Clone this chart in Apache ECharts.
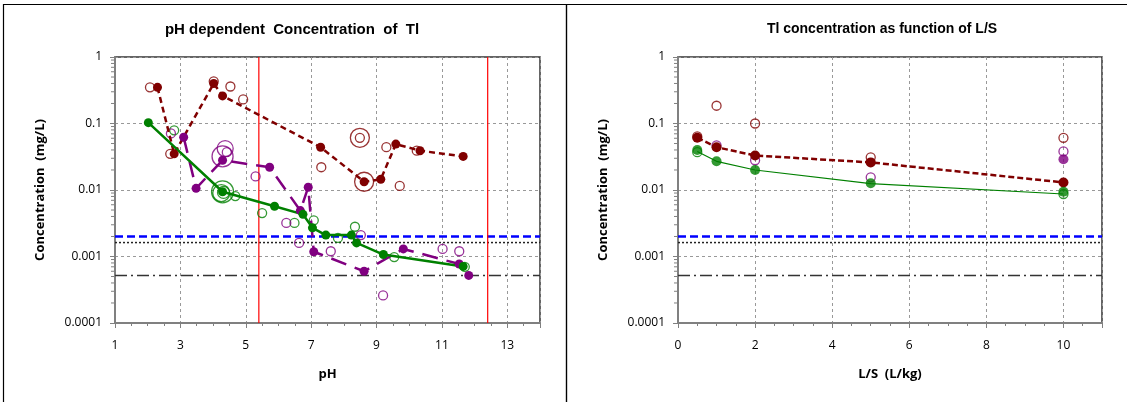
<!DOCTYPE html>
<html>
<head>
<meta charset="utf-8">
<script src="https://cdn.jsdelivr.net/npm/echarts@6/dist/echarts.min.js"></script>
<style>
  html, body { margin: 0; padding: 0; background: #fff; }
  #main { width: 1127px; height: 402px; }
</style>
</head>
<body>
<div id="main"></div>
<script>
// pH chart (left)
var phTicks = [1, 3, 5, 7, 9, 11, 13];
var concTicks = ['0.0001', '0.001', '0.01', '0.1', '1'];
var phMaroonLine = [[2.3, 0.35], [2.81, 0.035], [4.02, 0.40], [4.29, 0.26], [7.29, 0.044], [8.62, 0.0133], [9.13, 0.0145], [9.59, 0.049], [10.33, 0.039], [11.65, 0.032]];
var phMaroonOpen = [[2.07, 0.35], [2.69, 0.035], [4.02, 0.43], [4.53, 0.36], [4.92, 0.23], [7.31, 0.022], [9.30, 0.044], [10.23, 0.039], [9.71, 0.0115], [8.49, 0.061]];
var phMaroonRings = [[8.49, 0.061, 19], [8.62, 0.0133, 19]];
var phGreenLine = [[2.02, 0.103], [4.29, 0.0094], [5.88, 0.0057], [6.75, 0.0043], [7.04, 0.0027], [7.45, 0.0021], [8.23, 0.0021], [8.39, 0.0016], [9.21, 0.00107], [11.65, 0.00071]];
var phGreenOpen = [[2.81, 0.079], [4.68, 0.0081], [5.50, 0.0045], [6.49, 0.0032], [7.08, 0.0035], [7.82, 0.0019], [8.34, 0.0028], [9.54, 0.00098], [11.7, 0.0007]];
var phGreenRings = [[4.29, 0.0094, 22], [4.25, 0.009, 17], [4.32, 0.0092, 12]];
var phPurpleLine = [[3.10, 0.062], [3.48, 0.0106], [4.29, 0.028], [5.73, 0.022], [6.67, 0.0049], [6.91, 0.011], [7.08, 0.00118], [8.62, 0.0006], [9.82, 0.0013], [11.53, 0.00077], [11.82, 0.00052]];
var phPurpleOpen = [[2.71, 0.071], [5.30, 0.016], [6.24, 0.0032], [6.63, 0.0016], [7.6, 0.0012], [8.52, 0.0021], [9.2, 0.00026], [11.02, 0.0013], [11.53, 0.0012]];
var phPurpleRings = [[4.37, 0.042, 16], [4.42, 0.037, 9], [4.29, 0.032, 21]];
var phLimits = [5.4, 12.4];

// L/S chart (right)
var lsTicks = [0, 2, 4, 6, 8, 10];
var lsX = [0.5, 1, 2, 5, 10];
var lsMaroon = [0.061, 0.044, 0.033, 0.026, 0.013];
var lsMaroonOpen = [0.064, 0.185, 0.1, 0.031, 0.061];
var lsGreen = [0.040, 0.027, 0.020, 0.0126, 0.0094];
var lsGreenCurve = [0.038, 0.027, 0.020, 0.0125, 0.0087];
var lsGreenOpen = [[0.5, 0.037], [10, 0.0087]];
var lsPurpleOpen = [[1, 0.047], [2, 0.028], [5, 0.0155], [10, 0.038]];
var lsPurple = [[10, 0.029]];

// horizontal reference levels
var refBlue = 0.002;
var refDotted = 0.00162;
var refDashDot = 0.00052;

var MAROON = '#800000', GREEN = '#008000', PURPLE = '#800080';
var FONT = 'Open Sans';

var yMinor = [];
for (var d = -4; d < 0; d++) {
  for (var m = 2; m < 10; m++) yMinor.push(m * Math.pow(10, d));
}

var myChart = echarts.init(document.getElementById('main'));

function yAxisFor(gi) {
  return {
    type: 'log', logBase: 10, gridIndex: gi, min: 0.0001, max: 1,
    name: 'Concentration  (mg/L)', nameLocation: 'middle', nameGap: 68,
    nameTextStyle: { fontFamily: FONT, fontWeight: 'bold', fontSize: 13, color: '#000' },
    axisLine: { show: true, lineStyle: { color: '#808080', width: 2 } },
    axisTick: { show: true, length: 5, lineStyle: { color: '#808080' } },
    axisLabel: {
      fontFamily: FONT, fontSize: 12, color: '#000', margin: 13,
      formatter: function (v) {
        var s = concTicks.filter(function (t) { return Math.abs(parseFloat(t) - v) / v < 1e-6; });
        return s.length ? s[0] : '';
      }
    },
    splitLine: { show: true, lineStyle: { color: '#999', type: [3, 3], width: 1 } }
  };
}

function xAxisFor(gi, min, max, name, ticks) {
  return {
    type: 'value', gridIndex: gi, min: min, max: max, interval: 2,
    name: name, nameLocation: 'middle', nameGap: 45,
    nameTextStyle: { fontFamily: FONT, fontWeight: 'bold', fontSize: 13, color: '#000' },
    axisLine: { show: true, lineStyle: { color: '#808080', width: 2 } },
    axisTick: { show: true, length: 5, lineStyle: { color: '#808080' } },
    minorTick: { show: true, splitNumber: 4, length: 3, lineStyle: { color: '#808080' } },
    axisLabel: {
      fontFamily: FONT, fontSize: 12, color: '#000', margin: 17,
      formatter: function (v) { return ticks.indexOf(v) >= 0 ? String(v) : ''; }
    },
    splitLine: { show: true, lineStyle: { color: '#999', type: [3, 3], width: 1 } }
  };
}

function minorTickSeries(gi, x0) {
  return {
    type: 'custom', xAxisIndex: gi, yAxisIndex: gi, silent: true, z: 5,
    data: yMinor.map(function (v) { return [x0, v]; }),
    renderItem: function (params, api) {
      var p = api.coord([api.value(0), api.value(1)]);
      return { type: 'line', shape: { x1: p[0] - 4, y1: p[1], x2: p[0], y2: p[1] }, style: { stroke: '#808080', lineWidth: 1 } };
    }
  };
}

function segment(gi, pts, color, width, dash) {
  return {
    type: 'line', xAxisIndex: gi, yAxisIndex: gi, data: pts, symbol: 'none', silent: true,
    lineStyle: { color: color, width: width, type: dash }, z: 2
  };
}

function refLines(gi, x0, x1) {
  return [
    segment(gi, [[x0, refDashDot], [x1, refDashDot]], '#333', 1.5, [12, 4, 2, 4]),
    segment(gi, [[x0, refDotted], [x1, refDotted]], '#222', 1.5, [2, 2]),
    segment(gi, [[x0, refBlue], [x1, refBlue]], '#0000ff', 2.5, [8, 4])
  ];
}

function openScatter(gi, data, color, sizeFn) {
  return {
    type: 'scatter', xAxisIndex: gi, yAxisIndex: gi, data: data, symbol: 'circle',
    symbolSize: sizeFn || 9,
    itemStyle: { color: 'rgba(255,255,255,0)', borderColor: color, borderWidth: 1.3 }, z: 3
  };
}

function filledLine(gi, data, color, width, dash, size) {
  return {
    type: 'line', xAxisIndex: gi, yAxisIndex: gi, data: data, symbol: 'circle', symbolSize: size,
    showSymbol: true, itemStyle: { color: color },
    lineStyle: { color: color, width: width, type: dash }, z: 4
  };
}

var ringSize = function (v) { return v[2]; };

var series = [minorTickSeries(0, 1), minorTickSeries(1, 0)]
  .concat(refLines(0, 1, 14))
  .concat(refLines(1, 0, 11))
  .concat(phLimits.map(function (p) { return segment(0, [[p, 0.0001], [p, 1]], '#ff0000', 1.2, 'solid'); }))
  .concat([
    // left chart
    openScatter(0, phMaroonOpen, MAROON),
    openScatter(0, phMaroonRings, MAROON, ringSize),
    openScatter(0, phGreenOpen, GREEN),
    openScatter(0, phGreenRings, GREEN, ringSize),
    openScatter(0, phPurpleOpen, PURPLE),
    openScatter(0, phPurpleRings, PURPLE, ringSize),
    filledLine(0, phMaroonLine, MAROON, 2.5, [6, 4], 9),
    filledLine(0, phPurpleLine, PURPLE, 2.5, [16, 9], 9),
    filledLine(0, phGreenLine, GREEN, 2.5, 'solid', 9),
    // right chart
    openScatter(1, lsX.map(function (x, i) { return [x, lsMaroonOpen[i]]; }), MAROON),
    openScatter(1, lsPurpleOpen, PURPLE),
    openScatter(1, lsGreenOpen, GREEN),
    {
      type: 'line', xAxisIndex: 1, yAxisIndex: 1, showSymbol: false, symbol: 'none',
      data: lsX.map(function (x, i) { return [x, lsGreenCurve[i]]; }),
      lineStyle: { color: GREEN, width: 1.2 }, z: 4
    },
    {
      type: 'scatter', xAxisIndex: 1, yAxisIndex: 1, symbolSize: 10,
      data: lsX.map(function (x, i) { return [x, lsGreen[i]]; }),
      itemStyle: { color: GREEN }, z: 5
    },
    filledLine(1, lsX.map(function (x, i) { return [x, lsMaroon[i]]; }), MAROON, 2.5, [6, 3], 10),
    {
      type: 'scatter', xAxisIndex: 1, yAxisIndex: 1, symbolSize: 10, data: lsPurple,
      itemStyle: { color: PURPLE }, z: 5
    }
  ]);

var option = {
  animation: false,
  backgroundColor: '#fff',
  graphic: [
    { type: 'rect', shape: { x: 3.5, y: 4.5, width: 563, height: 410 }, style: { fill: 'none', stroke: '#000', lineWidth: 1.2 } },
    { type: 'rect', shape: { x: 566.5, y: 4.5, width: 570, height: 410 }, style: { fill: 'none', stroke: '#000', lineWidth: 1.2 } }
  ],
  title: [
    { text: 'pH dependent  Concentration  of  Tl', left: 287, top: 17, textAlign: 'center',
      textStyle: { fontFamily: 'Liberation Sans', fontWeight: 'bold', fontSize: 15, color: '#000' } },
    { text: 'Tl concentration as function of L/S', left: 877, top: 17, textAlign: 'center',
      textStyle: { fontFamily: 'Liberation Sans', fontWeight: 'bold', fontSize: 14, color: '#000' } }
  ],
  grid: [
    { left: 115, top: 57, width: 425, height: 266, show: true, borderColor: '#333', borderWidth: 1.5 },
    { left: 678, top: 57, width: 424, height: 266, show: true, borderColor: '#333', borderWidth: 1.5 }
  ],
  xAxis: [xAxisFor(0, 1, 14, 'pH', phTicks), xAxisFor(1, 0, 11, 'L/S  (L/kg)', lsTicks)],
  yAxis: [yAxisFor(0), yAxisFor(1)],
  series: series
};
myChart.setOption(option);
</script>
</body>
</html>
